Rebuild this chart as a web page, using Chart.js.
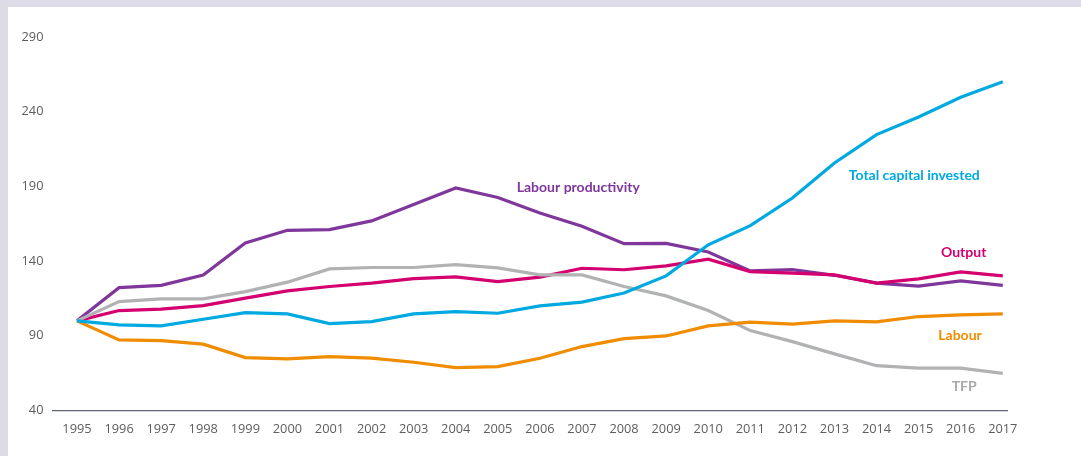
<!DOCTYPE html>
<html>
<head>
<meta charset="utf-8">
<script src="https://cdn.jsdelivr.net/npm/chart.js@4.4.1/dist/chart.umd.min.js"></script>
<style>
  html, body { margin: 0; padding: 0; background: #ffffff; }
  #wrap { position: relative; width: 1081px; height: 456px; overflow: hidden; }
  #frameTop { position: absolute; left: 0; top: 0; width: 1081px; height: 7px; background: #dcdbe7; }
  #frameLeft { position: absolute; left: 0; top: 0; width: 8px; height: 456px; background: #dcdbe7; }
  canvas { position: absolute; left: 0; top: 0; }
</style>
</head>
<body>
<div id="wrap">
  <canvas id="chart" width="1081" height="456"></canvas>
  <div id="frameTop"></div>
  <div id="frameLeft"></div>
</div>
<script>
// Index, 1995 = 100
const years = [1995, 1996, 1997, 1998, 1999, 2000, 2001, 2002, 2003, 2004, 2005, 2006,
               2007, 2008, 2009, 2010, 2011, 2012, 2013, 2014, 2015, 2016, 2017];
const yTicks = [40, 90, 140, 190, 240, 290];

const labourProductivity = [100, 122.2, 123.8, 130.7, 152.1, 160.6, 161.1, 166.9, 177.9, 189.0, 182.6, 172.2,
                            163.3, 151.7, 151.9, 146.1, 133.4, 134.3, 130.5, 125.3, 123.3, 126.7, 123.8];
const tfp = [100, 112.9, 114.7, 114.7, 119.6, 125.9, 134.8, 135.7, 135.7, 137.7, 135.5, 130.8,
             130.8, 123.0, 116.7, 106.9, 93.5, 86.1, 77.9, 70.0, 68.3, 68.3, 64.9];
const output = [100, 106.9, 107.8, 110.2, 115.2, 120.1, 123.0, 125.3, 128.3, 129.5, 126.3, 129.3,
                135.2, 134.2, 136.8, 141.3, 133.0, 132.0, 130.8, 125.3, 128.1, 132.8, 130.1];
const totalCapital = [100, 97.3, 96.6, 101.1, 105.5, 104.7, 98.2, 99.5, 104.7, 106.2, 105.1, 110.0,
                      112.5, 118.6, 130.1, 150.9, 163.7, 182.2, 205.7, 224.7, 236.5, 249.7, 260.0];
const labour = [100, 87.3, 86.8, 84.4, 75.4, 74.5, 76.1, 75.0, 72.3, 68.7, 69.4, 75.0,
                82.8, 88.1, 89.9, 96.6, 99.1, 97.8, 100.0, 99.3, 102.9, 104.0, 104.7];

const seriesNames = ['Labour productivity', 'TFP', 'Output', 'Total capital invested', 'Labour'];
const seriesColors = ['#80379b', '#b1b2b4', '#d4006f', '#00a9e0', '#f08c00'];
const seriesValues = [labourProductivity, tfp, output, totalCapital, labour];

const toPoints = vals => years.map((yr, i) => ({ x: yr, y: vals[i] }));

// draw order: back to front
const drawOrder = [3, 4, 1, 2, 0];
const datasets = drawOrder.map(i => ({
  label: seriesNames[i],
  data: toPoints(seriesValues[i]),
  borderColor: seriesColors[i],
  backgroundColor: seriesColors[i],
  borderWidth: 3.2,
  pointRadius: 0,
  tension: 0,
  borderJoinStyle: 'miter',
  fill: false
}));

// series name tags placed in data space (year, index value)
const tags = [
  { series: 0, x: 2005.45, y: 189.6, align: 'left' },
  { series: 3, x: 2013.34, y: 197.2, align: 'left' },
  { series: 2, x: 2016.61, y: 145.8, align: 'right' },
  { series: 4, x: 2016.50, y: 90.1, align: 'right' },
  { series: 1, x: 2016.38, y: 56.4, align: 'right', color: '#a8a9ab' }
];

const tagPlugin = {
  id: 'seriesTags',
  afterDatasetsDraw(chart) {
    const { ctx, scales } = chart;
    ctx.save();
    ctx.font = 'bold 14px Lato';
    ctx.textBaseline = 'middle';
    tags.forEach(t => {
      ctx.fillStyle = t.color || seriesColors[t.series];
      ctx.textAlign = t.align;
      ctx.fillText(seriesNames[t.series], scales.x.getPixelForValue(t.x), scales.y.getPixelForValue(t.y));
    });
    ctx.restore();
  }
};

new Chart(document.getElementById('chart'), {
  type: 'line',
  data: { datasets },
  plugins: [tagPlugin],
  options: {
    responsive: false,
    animation: false,
    layout: { padding: { top: 37, right: 74, bottom: 0, left: 0 } },
    plugins: { legend: { display: false }, tooltip: { enabled: false } },
    scales: {
      x: {
        type: 'linear',
        min: 1994.43,
        max: 2017.1,
        afterBuildTicks(scale) { scale.ticks = years.map(v => ({ value: v })); },
        afterFit(scale) { scale.height = 45.5; },
        grid: { display: false, drawTicks: false },
        border: { display: true, color: '#5f6670', width: 1.3 },
        ticks: {
          autoSkip: false,
          maxRotation: 0,
          padding: 11,
          color: '#5e5e5e',
          font: { family: 'Open Sans', size: 12.8 },
          callback: v => String(v)
        }
      },
      y: {
        min: 40,
        max: 290,
        afterBuildTicks(scale) { scale.ticks = yTicks.map(v => ({ value: v })); },
        afterFit(scale) { scale.width = 53; },
        grid: { display: false, drawTicks: false },
        border: { display: false },
        ticks: {
          padding: 9.5,
          color: '#5e5e5e',
          font: { family: 'Open Sans', size: 12.8 }
        }
      }
    }
  }
});
</script>
</body>
</html>
